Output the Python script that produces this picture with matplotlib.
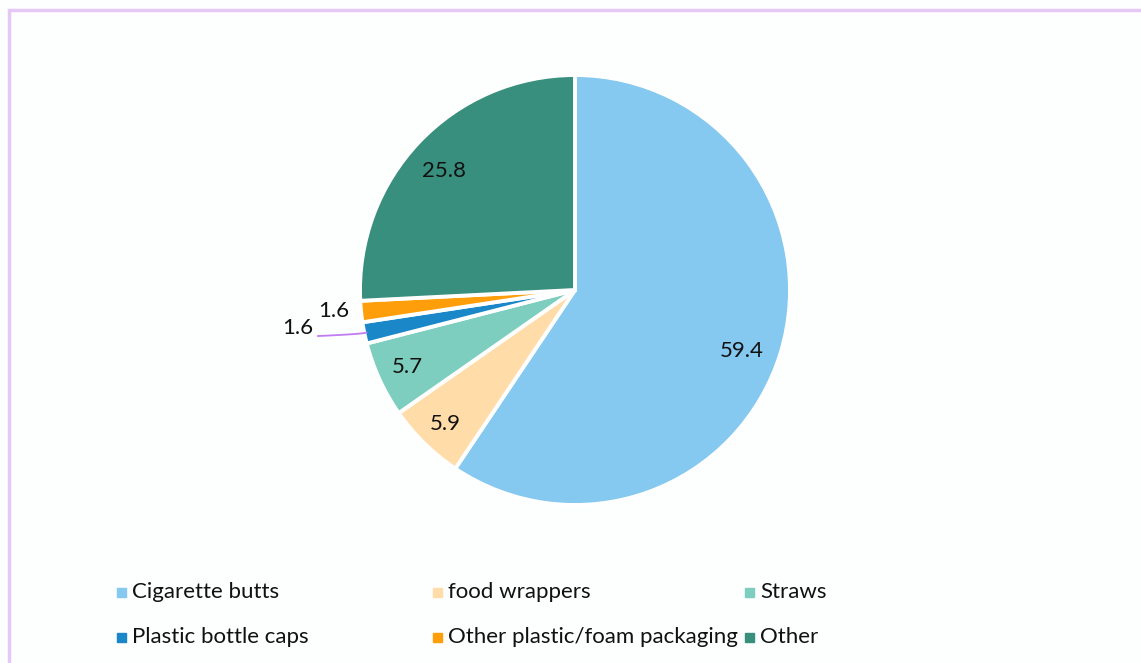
import numpy as np
import matplotlib.pyplot as plt
from matplotlib.patches import Rectangle

# Share of beach litter items (%)
categories = ['Cigarette butts', 'food wrappers', 'Straws',
              'Plastic bottle caps', 'Other plastic/foam packaging', 'Other']
values = [59.4, 5.9, 5.7, 1.6, 1.6, 25.8]
colors = ['#85C8F0', '#FFDCA8', '#7ECEBF', '#1A87C9', '#FF9E0B', '#388F7E']

plt.rcParams['font.family'] = ['Lato', 'DejaVu Sans']

W, H = 1141, 663
fig = plt.figure(figsize=(W / 100, H / 100), dpi=100)
fig.patch.set_facecolor('#FDFEFE')

# frame around the chart area
fig.patches.append(Rectangle((9 / W, -0.05), 1.2, (H - 10) / H + 0.05,
                             transform=fig.transFigure, fill=False,
                             edgecolor='#E6C8F6', linewidth=2.5))

cx, cy, r = 575, 290, 215
ax = fig.add_axes([(cx - r) / W, (H - cy - r) / H, 2 * r / W, 2 * r / H])
wedges, _ = ax.pie(values, colors=colors, startangle=90, counterclock=False,
                   wedgeprops=dict(edgecolor='white', linewidth=2.8))
ax.set_xlim(-1, 1)
ax.set_ylim(-1, 1)
ax.set_aspect('equal')

# label placement: (radius, extra x, extra y) per slice
label_pos = [(0.82, -0.01, -0.045), (0.86, 0, -0.01), (0.86, 0, 0),
             (1.30, -0.014, 0.082), (1.13, 0, 0.015), (0.83, -0.01, -0.02)]
for w, v, (rr, dx, dy) in zip(wedges, values, label_pos):
    a = np.deg2rad((w.theta1 + w.theta2) / 2)
    ax.text(rr * np.cos(a) + dx, rr * np.sin(a) + dy, f'{v:.1f}',
            ha='center', va='center', fontsize=16, color='#111111')

# leader line for the small blue slice
w = wedges[3]
a = np.deg2rad((w.theta1 + w.theta2) / 2)
x0, y0 = 0.99 * np.cos(a), 0.99 * np.sin(a)
xs = np.linspace(x0, -1.195, 20)
ys = y0 + (-0.214 - y0) * ((xs - x0) / (-1.195 - x0)) ** 0.6
ax.plot(xs, ys, color='#C07CF2', linewidth=1.3, clip_on=False)

# legend in two rows
col_x = [117, 433, 745]
row_y = [592, 637]
for i, (name, c) in enumerate(zip(categories, colors)):
    x = col_x[i % 3]
    y = row_y[i // 3]
    fig.patches.append(Rectangle((x / W, (H - y - 4.5) / H), 9 / W, 9 / H,
                                 transform=fig.transFigure, color=c))
    fig.text((x + 15) / W, (H - y) / H, name, ha='left', va='center',
             fontsize=16, color='#111111')

fig.savefig('out.png', dpi=100, facecolor=fig.get_facecolor())
